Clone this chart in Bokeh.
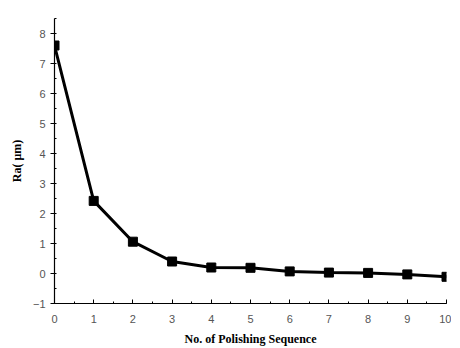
from bokeh.plotting import figure
from bokeh.models import Range1d, FixedTicker
from bokeh.embed import file_html
from bokeh.resources import INLINE

sequence = [0, 1, 2, 3, 4, 5, 6, 7, 8, 9, 10]
ra_um = [7.6, 2.42, 1.06, 0.4, 0.2, 0.19, 0.07, 0.03, 0.02, -0.03, -0.11]
x_ticks = list(range(0, 11))
y_ticks = list(range(-1, 9))

p = figure(width=451, height=348, output_backend="svg", toolbar_location=None,
           x_range=Range1d(0, 10), y_range=Range1d(-1, 8.5),
           min_border_left=54, min_border_right=5, min_border_top=18, min_border_bottom=42)
p.outline_line_color = None
p.grid.visible = False
p.background_fill_color = "white"

p.line(sequence, ra_um, line_width=3, color="black")
p.scatter(sequence, ra_um, marker="square", size=9, color="black")

p.xaxis.ticker = FixedTicker(ticks=x_ticks, minor_ticks=[i * 0.5 for i in range(21)])
p.yaxis.ticker = FixedTicker(ticks=y_ticks, minor_ticks=[-1 + i * 0.5 for i in range(20)])

for ax in (p.xaxis, p.yaxis):
    ax.axis_line_color = "black"
    ax.axis_line_width = 1.2
    ax.major_tick_line_color = "black"
    ax.minor_tick_line_color = "black"
    ax.major_label_text_font = "Liberation Sans"
    ax.major_label_text_font_size = "11px"
    ax.major_label_text_color = "#555555"
    ax.axis_label_text_font = "Liberation Serif"
    ax.axis_label_text_font_style = "bold"
    ax.axis_label_text_font_size = "12px"
    ax.axis_label_text_color = "black"

p.xaxis.major_tick_in = 4
p.xaxis.major_tick_out = 0
p.xaxis.minor_tick_in = 2
p.xaxis.minor_tick_out = 0
p.xaxis.major_label_standoff = 11
p.xaxis.axis_label = "No. of Polishing Sequence"
p.xaxis.axis_label_standoff = 6

p.yaxis.major_tick_in = 0
p.yaxis.major_tick_out = 4
p.yaxis.minor_tick_in = 2
p.yaxis.minor_tick_out = 0
p.yaxis.major_label_standoff = 5
p.yaxis.axis_label = "Ra( μm)"
p.yaxis.axis_label_standoff = 6

open("out.html", "w").write(file_html(p, INLINE))
